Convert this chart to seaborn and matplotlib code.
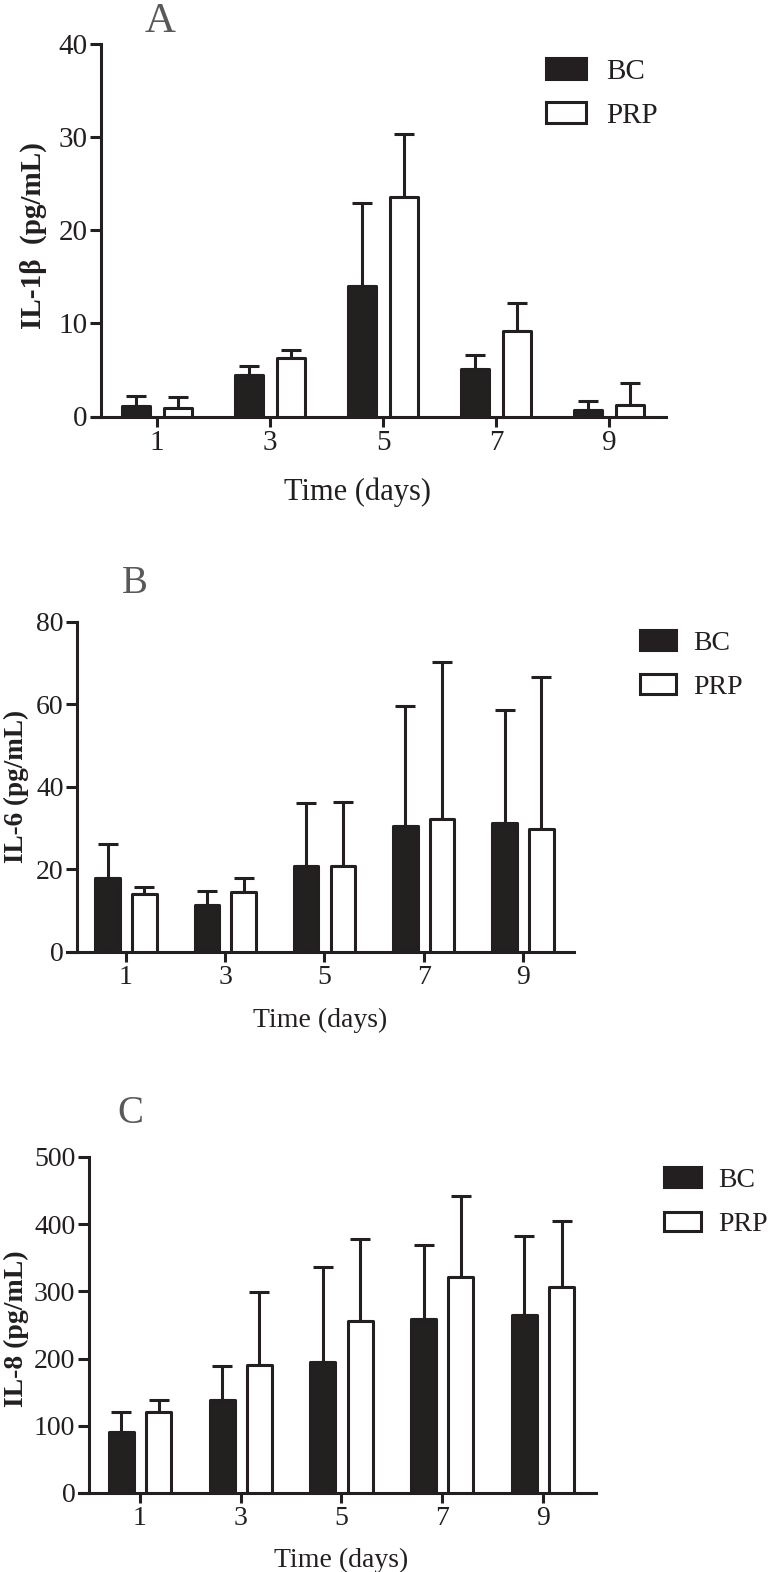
import numpy as np
import pandas as pd
import matplotlib
matplotlib.use("Agg")
import matplotlib.pyplot as plt
from matplotlib.patches import Patch
import seaborn as sns

# ---------------- data ----------------
days = ["1", "3", "5", "7", "9"]
groups = ["BC", "PRP"]

il1b_bc = [1.1, 4.5, 14.0, 5.1, 0.65]
il1b_bc_sd = [1.15, 0.97, 8.9, 1.55, 1.05]
il1b_prp = [0.9, 6.3, 23.6, 9.2, 1.2]
il1b_prp_sd = [1.15, 0.8, 6.75, 3.0, 2.4]

il6_bc = [17.8, 11.3, 20.8, 30.5, 31.3]
il6_bc_sd = [8.2, 3.4, 15.2, 29.1, 27.4]
il6_prp = [13.9, 14.5, 20.8, 32.1, 29.7]
il6_prp_sd = [1.9, 3.4, 15.6, 38.2, 37.0]

il8_bc = [90.8, 138.9, 195.0, 259.4, 265.4]
il8_bc_sd = [29.7, 49.6, 142.0, 110.0, 116.6]
il8_prp = [120.5, 191.0, 255.5, 321.0, 306.5]
il8_prp_sd = [18.4, 108.0, 123.0, 120.5, 98.5]

panels = [
    dict(letter="A", ylabel="IL-1β  (pg/mL)", ymax=40, yticks=[0, 10, 20, 30, 40],
         bc=il1b_bc, bc_sd=il1b_bc_sd, prp=il1b_prp, prp_sd=il1b_prp_sd),
    dict(letter="B", ylabel="IL-6 (pg/mL)", ymax=80, yticks=[0, 20, 40, 60, 80],
         bc=il6_bc, bc_sd=il6_bc_sd, prp=il6_prp, prp_sd=il6_prp_sd),
    dict(letter="C", ylabel="IL-8 (pg/mL)", ymax=500, yticks=[0, 100, 200, 300, 400, 500],
         bc=il8_bc, bc_sd=il8_bc_sd, prp=il8_prp, prp_sd=il8_prp_sd),
]

# ---------------- layout (pixels) ----------------
W, H = 771, 1572
layout = [
    dict(left=92, right=666, top=44.3, bottom=416.5, xlim=(-0.575, 4.504), spine=-0.496,
         tfs=21, lfs=22, yfs=21,
         title_xy=(160, 32), title_fs=31,
         xlabel_xy=(358, 500), ylabel_xy=(33, 236),
         leg_xy=(546, 58), leg_hl=1.37, leg_hh=0.74, leg_tp=0.7, leg_ls=0.6),
    dict(left=67, right=574, top=621.7, bottom=951.7, xlim=(-0.594, 4.514), spine=-0.494,
         tfs=20, lfs=20, yfs=19.5,
         title_xy=(135, 593), title_fs=28,
         xlabel_xy=(320, 1027), ylabel_xy=(16, 786),
         leg_xy=(639.5, 630), leg_hl=1.3, leg_hh=0.72, leg_tp=0.63, leg_ls=0.66),
    dict(left=79, right=596, top=1157, bottom=1493, xlim=(-0.605, 4.526), spine=-0.51,
         tfs=20, lfs=20, yfs=20,
         title_xy=(130, 1123), title_fs=28,
         xlabel_xy=(341, 1567), ylabel_xy=(16, 1329),
         leg_xy=(663.5, 1167), leg_hl=1.35, leg_hh=0.72, leg_tp=0.63, leg_ls=0.68),
]

DARK = "#231f20"
GREY = "#58595b"
LW = 2.2

sns.set_theme(style="ticks")
plt.rcParams["font.family"] = ["Liberation Serif", "DejaVu Serif"]
plt.rcParams["axes.linewidth"] = LW

fig = plt.figure(figsize=(W / 100, H / 100), dpi=100)

for p, L in zip(panels, layout):
    ax = fig.add_axes([L["left"] / W, 1 - L["bottom"] / H,
                       (L["right"] - L["left"]) / W, (L["bottom"] - L["top"]) / H])
    df = pd.DataFrame({
        "day": days * 2,
        "group": ["BC"] * len(days) + ["PRP"] * len(days),
        "value": list(p["bc"]) + list(p["prp"]),
    })
    sns.barplot(data=df, x="day", y="value", hue="group", order=days, hue_order=groups,
                palette={"BC": DARK, "PRP": "white"}, edgecolor=DARK, linewidth=LW,
                width=0.74, gap=0.33, errorbar=None, legend=False, ax=ax, zorder=3)
    for patch in ax.patches:
        patch.set_joinstyle("round")
    sds = [p["bc_sd"], p["prp_sd"]]
    for cont, sd in zip(ax.containers, sds):
        xs = [b.get_x() + b.get_width() / 2 for b in cont]
        ys = [b.get_height() for b in cont]
        eb = ax.errorbar(xs, ys, yerr=[np.zeros(len(sd)), sd], fmt="none", ecolor=DARK,
                         elinewidth=LW, capsize=7, capthick=LW, zorder=2)
        for coll in eb.lines[2]:
            coll.set_capstyle("round")

    ax.set_xlim(*L["xlim"])
    ax.set_ylim(0, p["ymax"])
    ax.set_yticks(p["yticks"])
    ax.spines["left"].set_position(("data", L["spine"]))
    for s in ("top", "right"):
        ax.spines[s].set_visible(False)
    for s in ("left", "bottom"):
        ax.spines[s].set_color(DARK)
        ax.spines[s].set_linewidth(LW)
        ax.spines[s].set_capstyle("projecting")
    ax.tick_params(axis="y", direction="out", length=8, width=LW, color=DARK,
                   labelsize=L["tfs"], labelcolor=DARK, pad=1.5)
    ax.tick_params(axis="x", direction="out", length=7.5, width=LW, color=DARK,
                   labelsize=L["tfs"], labelcolor=DARK, pad=2)

    ax.set_xlabel("Time (days)", fontsize=L["lfs"], color=DARK)
    ax.xaxis.set_label_coords(L["xlabel_xy"][0] / W, 1 - L["xlabel_xy"][1] / H,
                              transform=fig.transFigure)
    ax.xaxis.label.set_va("baseline")
    ax.set_ylabel(p["ylabel"], fontsize=L["yfs"], color=DARK, fontweight="bold")
    ax.yaxis.set_label_coords(L["ylabel_xy"][0] / W, 1 - L["ylabel_xy"][1] / H,
                              transform=fig.transFigure)
    ax.yaxis.label.set_va("center")

    fig.text(L["title_xy"][0] / W, 1 - L["title_xy"][1] / H, p["letter"],
             fontsize=L["title_fs"], color=GREY, ha="center", va="baseline")

    handles = [Patch(facecolor=DARK, edgecolor=DARK, linewidth=LW, joinstyle="round", label="BC"),
               Patch(facecolor="white", edgecolor=DARK, linewidth=LW, joinstyle="round", label="PRP")]
    leg = ax.legend(handles=handles, loc="upper left",
                    bbox_to_anchor=(L["leg_xy"][0] / W, 1 - L["leg_xy"][1] / H),
                    bbox_transform=fig.transFigure, frameon=False, fontsize=L["tfs"],
                    handlelength=L["leg_hl"], handleheight=L["leg_hh"],
                    handletextpad=L["leg_tp"], labelspacing=L["leg_ls"],
                    borderpad=0, borderaxespad=0)
    for t in leg.get_texts():
        t.set_color(DARK)

fig.savefig("out.png", dpi=100)
